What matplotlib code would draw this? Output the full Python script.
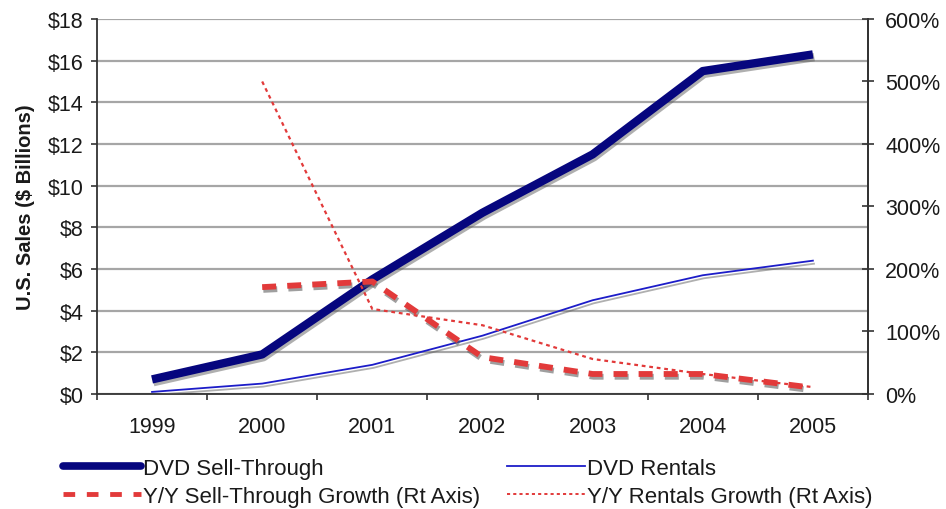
import matplotlib
matplotlib.use("Agg")
import matplotlib.pyplot as plt
import matplotlib.patheffects as pe
from matplotlib.ticker import FuncFormatter, MultipleLocator
from matplotlib.lines import Line2D

plt.rcParams['font.family'] = ['Liberation Sans', 'DejaVu Sans']

# Annual US DVD market
years = ['1999', '2000', '2001', '2002', '2003', '2004', '2005']
sell_through = [0.7, 1.9, 5.5, 8.7, 11.5, 15.5, 16.3]      # $ billions
rentals = [0.1, 0.5, 1.4, 2.8, 4.5, 5.7, 6.4]              # $ billions
# year-over-year growth, percent (starting in 2000)
growth_years = years[1:]
sell_through_growth = [171, 180, 59, 32, 32, 10]
rentals_growth = [500, 136, 110, 56, 32, 11]

navy = '#06067E'
blue = '#1C1CC8'
red = '#E23A3A'
text_color = '#1a1a1a'

fig = plt.figure(figsize=(9.46, 5.10), dpi=100)
ax = fig.add_axes([0.1025, 0.2255, 0.815, 0.7353])
ax2 = ax.twinx()

x = list(range(len(years)))
gx = [years.index(y) for y in growth_years]

def shadow(offset=(1, -2.5), alpha=0.55):
    return [pe.SimpleLineShadow(offset=offset, shadow_color='#606060', alpha=alpha),
            pe.Normal()]

ax.plot(x, sell_through, color=navy, lw=6, solid_capstyle='butt',
        solid_joinstyle='round', path_effects=shadow((1, -2), 0.5), zorder=3)
ax.plot(x, rentals, color=blue, lw=1.3,
        path_effects=shadow((0.8, -2.2), 0.5), zorder=3)

ax2.plot(gx, sell_through_growth, color=red, lw=4.2, dashes=(2.4, 1.9),
         dash_capstyle='butt', path_effects=shadow((0.8, -2), 0.6), zorder=3)
ax2.plot(gx, rentals_growth, color=red, lw=1.6, dashes=(1.7, 1.7),
         dash_capstyle='butt', zorder=3)

# axes ranges and ticks
ax.set_xlim(-0.5, len(years) - 0.5)
ax.set_ylim(0, 18)
ax2.set_ylim(0, 600)

ax.yaxis.set_major_locator(MultipleLocator(2))
ax.yaxis.set_major_formatter(FuncFormatter(lambda v, p: f'${v:.0f}'))
ax2.yaxis.set_major_locator(MultipleLocator(100))
ax2.yaxis.set_major_formatter(FuncFormatter(lambda v, p: f'{v:.0f}%'))

ax.set_xticks([i - 0.5 for i in range(len(years) + 1)])
ax.set_xticklabels([])
ax.set_xticks(x, minor=True)
ax.set_xticklabels(years, minor=True)
ax.tick_params(axis='x', which='major', length=4.5, width=1.2, direction='out', color='#333333')
ax.tick_params(axis='x', which='minor', length=0, pad=16, labelsize=15.5,
               labelcolor=text_color)
ax.tick_params(axis='y', length=4.5, width=1.2, direction='out', labelsize=15.5, pad=5,
               color='#333333', labelcolor=text_color)
ax2.tick_params(axis='y', length=9, width=1.2, direction='inout', labelsize=15.5, pad=8,
                color='#333333', labelcolor=text_color)

ax.grid(axis='y', color='#A6A6A6', lw=1.6)
ax.set_axisbelow(True)

for a in (ax, ax2):
    a.spines['top'].set_visible(False)
    for s in ('left', 'right', 'bottom'):
        a.spines[s].set_color('#333333')
        a.spines[s].set_linewidth(1.3)
ax2.spines['left'].set_visible(False)
ax2.spines['bottom'].set_visible(False)

ax.set_ylabel('U.S. Sales ($ Billions)', fontsize=14.5, fontweight='bold', color=text_color)
ax.yaxis.set_label_coords(-0.08, 0.5)

# legend in two columns below the plot
h1 = Line2D([], [], color=navy, lw=5.5, solid_capstyle='round')
h2 = Line2D([], [], color=blue, lw=1.3)
h3 = Line2D([], [], color=red, lw=3.5, dashes=(2.4, 2.4))
h4 = Line2D([], [], color=red, lw=1.4, dashes=(1.6, 1.6))

fig.legend([h1, h3, h2, h4],
           ['DVD Sell-Through', 'Y/Y Sell-Through Growth (Rt Axis)',
            'DVD Rentals', 'Y/Y Rentals Growth (Rt Axis)'],
           ncol=2, loc='upper left', bbox_to_anchor=(0.055, 0.122), frameon=False,
           fontsize=16, handlelength=3.5, handletextpad=0.1, labelspacing=0.3,
           columnspacing=1.2, borderpad=0, labelcolor=text_color)

fig.savefig('out.png', dpi=100, facecolor='white')
